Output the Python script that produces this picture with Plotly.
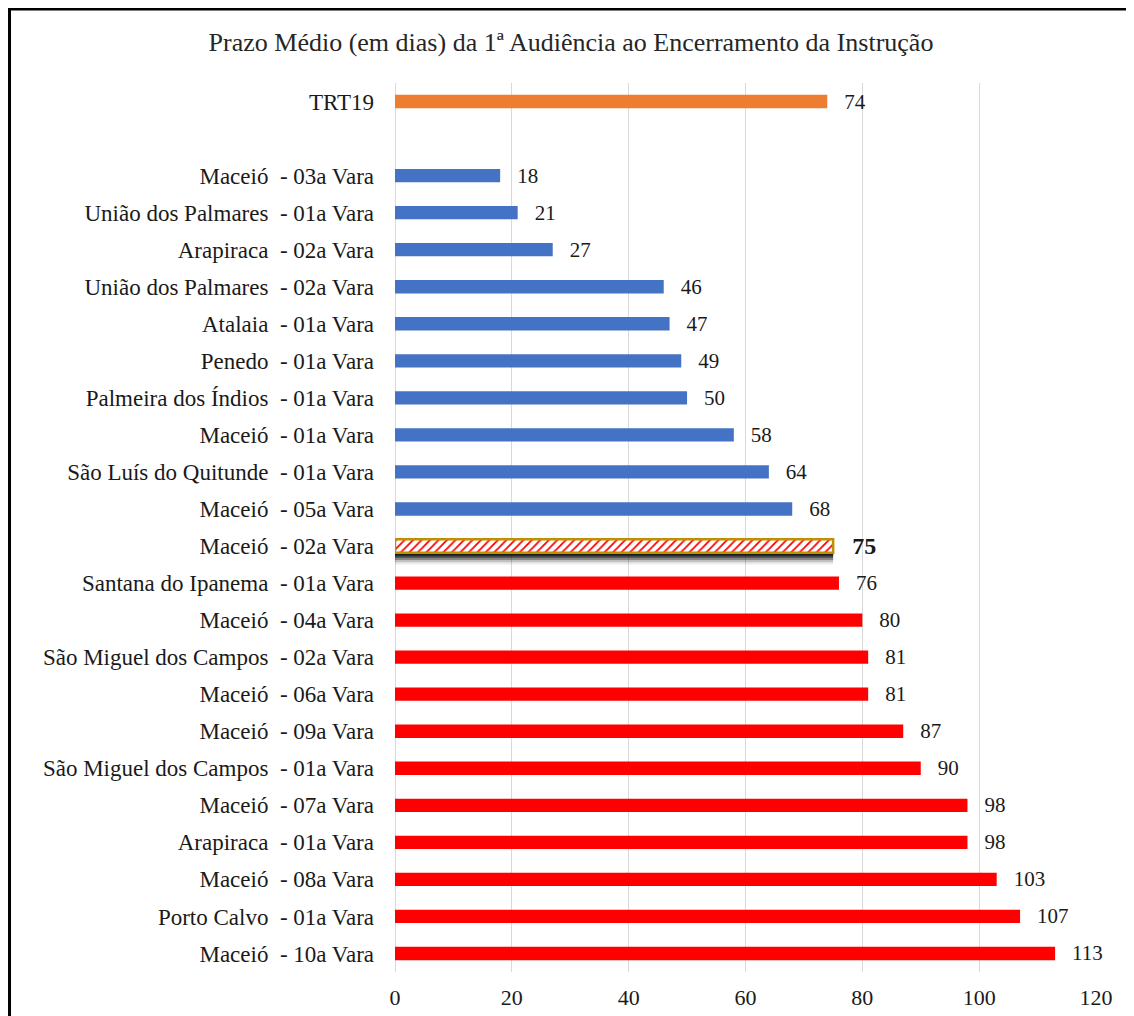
import plotly.graph_objects as go

# ===========================================================
# DATA
# ===========================================================
TITLE = "Prazo Médio (em dias) da 1ª Audiência ao Encerramento da Instrução"

varas = [
    "TRT19",
    "\u00a0",  # linha em branco entre o TRT e as varas
    "Maceió  - 03a Vara",
    "União dos Palmares  - 01a Vara",
    "Arapiraca  - 02a Vara",
    "União dos Palmares  - 02a Vara",
    "Atalaia  - 01a Vara",
    "Penedo  - 01a Vara",
    "Palmeira dos Índios  - 01a Vara",
    "Maceió  - 01a Vara",
    "São Luís do Quitunde  - 01a Vara",
    "Maceió  - 05a Vara",
    "Maceió  - 02a Vara",
    "Santana do Ipanema  - 01a Vara",
    "Maceió  - 04a Vara",
    "São Miguel dos Campos  - 02a Vara",
    "Maceió  - 06a Vara",
    "Maceió  - 09a Vara",
    "São Miguel dos Campos  - 01a Vara",
    "Maceió  - 07a Vara",
    "Arapiraca  - 01a Vara",
    "Maceió  - 08a Vara",
    "Porto Calvo  - 01a Vara",
    "Maceió  - 10a Vara",
]
prazos = [74, None, 18, 21, 27, 46, 47, 49, 50, 58, 64, 68, 75,
          76, 80, 81, 81, 87, 90, 98, 98, 103, 107, 113]

destaque = "Maceió  - 02a Vara"
x_ticks = [0, 20, 40, 60, 80, 100, 120]

# svg collapses double spaces
labels = [v.replace("  ", "\u00a0\u00a0") for v in varas]
destaque_lbl = destaque.replace("  ", "\u00a0\u00a0")
i_d = labels.index(destaque_lbl)

# ===========================================================
# STYLE PER BAR
# ===========================================================
ORANGE, BLUE, RED, GOLD = "#ED7D31", "#4472C4", "#FF0000", "#BF9000"
trt = prazos[0]
FONT = "Liberation Serif"
PAD = "\u2002\u2006"

colors, texts, tsize = [], [], []
for lbl, v in zip(labels, prazos):
    if v is None:
        colors.append("white"); texts.append(""); tsize.append(21)
        continue
    if lbl == "TRT19":
        colors.append(ORANGE)
    elif lbl == destaque_lbl:
        colors.append("white")
    elif v < trt:
        colors.append(BLUE)
    else:
        colors.append(RED)
    if lbl == destaque_lbl:
        texts.append(f"{PAD}<b>{v}</b>"); tsize.append(24)
    else:
        texts.append(f"{PAD}{v}"); tsize.append(21)

fig = go.Figure()

# blurred drop shadow under the highlighted bar
for off, op in [(0.14, 0.08), (0.08, 0.18), (0.02, 0.3), (-0.04, 0.45), (-0.10, 0.6)]:
    fig.add_trace(go.Bar(
        x=[prazos[i_d]], y=[labels[i_d]], orientation="h",
        width=0.36, offset=off,
        marker=dict(color=f"rgba(0,0,0,{op})", line_width=0),
        hoverinfo="skip", showlegend=False,
    ))

# all bars
fig.add_trace(go.Bar(
    x=prazos, y=labels, orientation="h",
    width=0.36,
    marker=dict(color=colors, line_width=0),
    text=texts, textposition="outside", cliponaxis=False,
    constraintext="none",
    textfont=dict(family=FONT, size=tsize, color="#1a1a1a"),
    showlegend=False,
))

# hatched fill + gold border on the highlighted bar
fig.add_trace(go.Bar(
    x=[prazos[i_d]], y=[labels[i_d]], orientation="h",
    width=0.36,
    marker=dict(
        color="white",
        line=dict(color=GOLD, width=2.5),
        pattern=dict(shape="/", fgcolor=RED, bgcolor="white",
                     fillmode="replace", size=6, solidity=0.3),
    ),
    hoverinfo="skip", showlegend=False,
))

fig.update_layout(
    width=1126, height=1008,
    paper_bgcolor="white", plot_bgcolor="white",
    margin=dict(l=387, r=38, t=75, b=44),
    barmode="overlay",
    font=dict(family=FONT, color="#1a1a1a"),
    title=dict(text=TITLE, x=0.5, xref="container", y=0.966, yanchor="middle",
               font=dict(family=FONT, size=26, color="#262626")),
    xaxis=dict(range=[0, 120], tickvals=x_ticks, showgrid=True,
               gridcolor="#D9D9D9", gridwidth=1, zeroline=True,
               zerolinecolor="#D9D9D9", zerolinewidth=1, showline=False,
               ticks="", ticklabelstandoff=10, automargin=False,
               tickfont=dict(size=22, family=FONT)),
    yaxis=dict(categoryorder="array", categoryarray=labels, autorange="reversed",
               showgrid=False, zeroline=False, showline=False, ticks="",
               ticklabelstandoff=20, automargin=False,
               tickfont=dict(size=23, family=FONT)),
    shapes=[dict(type="path", xref="paper", yref="paper",
                 path="M -0.5499,-0.2 L -0.5499,1.0832 L 1.2,1.0832",
                 line=dict(color="black", width=3))],
)

fig.write_html("out.html")
